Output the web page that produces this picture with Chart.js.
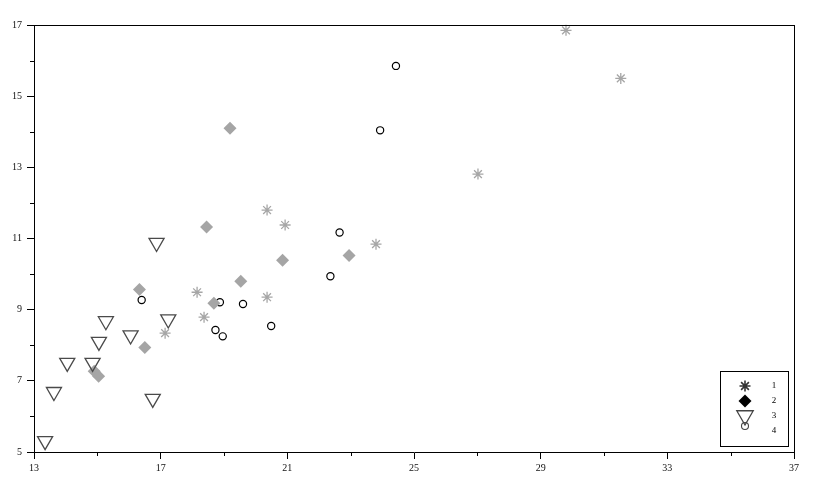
<!DOCTYPE html>
<html>
<head>
<meta charset="utf-8">
<script src="https://cdn.jsdelivr.net/npm/chart.js@4.4.1/dist/chart.umd.min.js"></script>
<style>
  html, body { margin: 0; padding: 0; background: #fff; }
  canvas { display: block; }
</style>
</head>
<body>
<canvas id="chart" width="817" height="491"></canvas>
<script>
// series names as shown in the legend box
const seriesNames = ['1', '2', '3', '4'];

// series 1 (asterisks)
const s1x = [29.80, 31.53, 27.02, 20.36, 20.93, 23.80, 18.15, 20.36, 18.37, 17.14];
const s1y = [16.85, 15.50, 12.81, 11.80, 11.38, 10.84, 9.49, 9.35, 8.79, 8.34];

// series 2 (diamonds)
const s2x = [19.19, 18.45, 19.53, 20.85, 22.95, 16.33, 18.68, 16.50, 15.04, 14.90];
const s2y = [14.10, 11.32, 9.80, 10.39, 10.52, 9.57, 9.18, 7.94, 7.13, 7.27];

// series 3 (open triangles)
const s3x = [13.35, 13.63, 14.05, 14.85, 15.05, 15.27, 16.05, 17.24, 16.75, 16.87];
const s3y = [5.31, 6.69, 7.51, 7.51, 8.10, 8.68, 8.28, 8.73, 6.50, 10.88];

// series 4 (open circles)
const s4x = [24.43, 23.93, 22.65, 22.36, 16.40, 18.87, 19.60, 20.49, 18.73, 18.96];
const s4y = [15.85, 14.04, 11.17, 9.94, 9.27, 9.21, 9.16, 8.54, 8.43, 8.25];

// axes
const xMin = 13, xMax = 37, xLabelStep = 4;
const yMin = 5, yMax = 17, yLabelStep = 2;

function toPoints(xs, ys) {
  return xs.map((x, i) => ({ x: x, y: ys[i] }));
}

const serif = 'Liberation Serif, DejaVu Serif, serif';

// frame, minor ticks and legend box
const framePlugin = {
  id: 'frame',
  afterDraw(chart) {
    const ctx = chart.ctx;
    const a = chart.chartArea;
    const xs = chart.scales.x, ys = chart.scales.y;
    ctx.save();
    ctx.strokeStyle = '#000';
    ctx.lineWidth = 1;
    ctx.beginPath();
    ctx.moveTo(a.left, a.top + 0.5);
    ctx.lineTo(a.right, a.top + 0.5);
    ctx.moveTo(a.right + 0.5, a.top);
    ctx.lineTo(a.right + 0.5, a.bottom);
    ctx.stroke();

    // short minor ticks between labelled values
    ctx.beginPath();
    for (let v = xMin + xLabelStep / 2; v < xMax; v += xLabelStep) {
      const px = Math.round(xs.getPixelForValue(v)) + 0.5;
      ctx.moveTo(px, a.bottom);
      ctx.lineTo(px, a.bottom + 4);
    }
    for (let v = yMin + yLabelStep / 2; v < yMax; v += yLabelStep) {
      const py = Math.round(ys.getPixelForValue(v)) + 0.5;
      ctx.moveTo(a.left, py);
      ctx.lineTo(a.left - 4, py);
    }
    ctx.stroke();

    // legend box
    const bx = 720.5, by = 371.5, bw = 68, bh = 75;
    ctx.fillStyle = '#fff';
    ctx.fillRect(bx, by, bw, bh);
    ctx.strokeRect(bx, by, bw, bh);
    const rowsY = [386, 401, 416, 431];
    const symY = [386, 401, 415.5, 426];
    const symStyles = [
      { pointStyle: 'star', radius: 5.5, rotation: 0, borderWidth: 1.6, fill: '#333', stroke: '#333' },
      { pointStyle: 'rectRot', radius: 6.5, rotation: 0, borderWidth: 0, fill: '#000', stroke: '#000' },
      { pointStyle: 'triangle', radius: 9.5, rotation: 180, borderWidth: 1.3, fill: 'rgba(0,0,0,0)', stroke: '#444' },
      { pointStyle: 'circle', radius: 3.5, rotation: 0, borderWidth: 1.1, fill: 'rgba(0,0,0,0)', stroke: '#444' }
    ];
    symStyles.forEach((st, i) => {
      ctx.fillStyle = st.fill;
      ctx.strokeStyle = st.stroke;
      ctx.lineWidth = st.borderWidth;
      Chart.helpers.drawPoint(ctx, st, 745, symY[i]);
    });
    ctx.fillStyle = '#000';
    ctx.font = '9px ' + serif;
    ctx.textAlign = 'center';
    ctx.textBaseline = 'middle';
    seriesNames.forEach((n, i) => ctx.fillText(n, 774, rowsY[i]));
    ctx.restore();
  }
};

const labelOnly = (step, start) => (v) => ((v - start) % step === 0 ? String(v) : '');

new Chart(document.getElementById('chart'), {
  type: 'scatter',
  data: {
    datasets: [
      {
        label: seriesNames[0], data: toPoints(s1x, s1y), order: 1,
        pointStyle: 'star', pointRadius: 5.5, pointBorderWidth: 1.3,
        borderColor: '#a6a6a6', backgroundColor: '#a6a6a6'
      },
      {
        label: seriesNames[1], data: toPoints(s2x, s2y), order: 2,
        pointStyle: 'rectRot', pointRadius: 6.5, pointBorderWidth: 0,
        borderColor: '#a5a5a5', backgroundColor: '#a5a5a5'
      },
      {
        label: seriesNames[2], data: toPoints(s3x, s3y), order: 0,
        pointStyle: 'triangle', rotation: 180, pointRadius: 8.7, pointBorderWidth: 1.3,
        borderColor: '#4a4a4a', backgroundColor: 'rgba(0,0,0,0)'
      },
      {
        label: seriesNames[3], data: toPoints(s4x, s4y), order: 3,
        pointStyle: 'circle', pointRadius: 3.6, pointBorderWidth: 1.2,
        borderColor: '#000', backgroundColor: 'rgba(0,0,0,0)'
      }
    ]
  },
  options: {
    responsive: false,
    animation: false,
    devicePixelRatio: 1,
    clip: false,
    layout: { padding: { left: 0, top: 25, right: 23, bottom: 0 } },
    plugins: { legend: { display: false }, tooltip: { enabled: false } },
    scales: {
      x: {
        type: 'linear', min: xMin, max: xMax,
        afterFit: (s) => { s.height = 39; },
        border: { display: true, color: '#000', width: 1 },
        grid: {
          drawOnChartArea: false, tickLength: 7,
          tickColor: (c) => (((c.tick.value - xMin) % xLabelStep === 0) ? '#000' : 'rgba(0,0,0,0)')
        },
        ticks: {
          stepSize: 2, padding: 3, maxRotation: 0, autoSkip: false,
          color: '#111', font: { family: serif, size: 10 },
          callback: labelOnly(xLabelStep, xMin)
        }
      },
      y: {
        type: 'linear', min: yMin, max: yMax,
        afterFit: (s) => { s.width = 34; },
        border: { display: true, color: '#000', width: 1 },
        grid: {
          drawOnChartArea: false, tickLength: 7,
          tickColor: (c) => (((c.tick.value - yMin) % yLabelStep === 0) ? '#000' : 'rgba(0,0,0,0)')
        },
        ticks: {
          stepSize: 1, padding: 5, autoSkip: false,
          color: '#111', font: { family: serif, size: 10 },
          callback: labelOnly(yLabelStep, yMin)
        }
      }
    }
  },
  plugins: [framePlugin]
});
</script>
</body>
</html>
